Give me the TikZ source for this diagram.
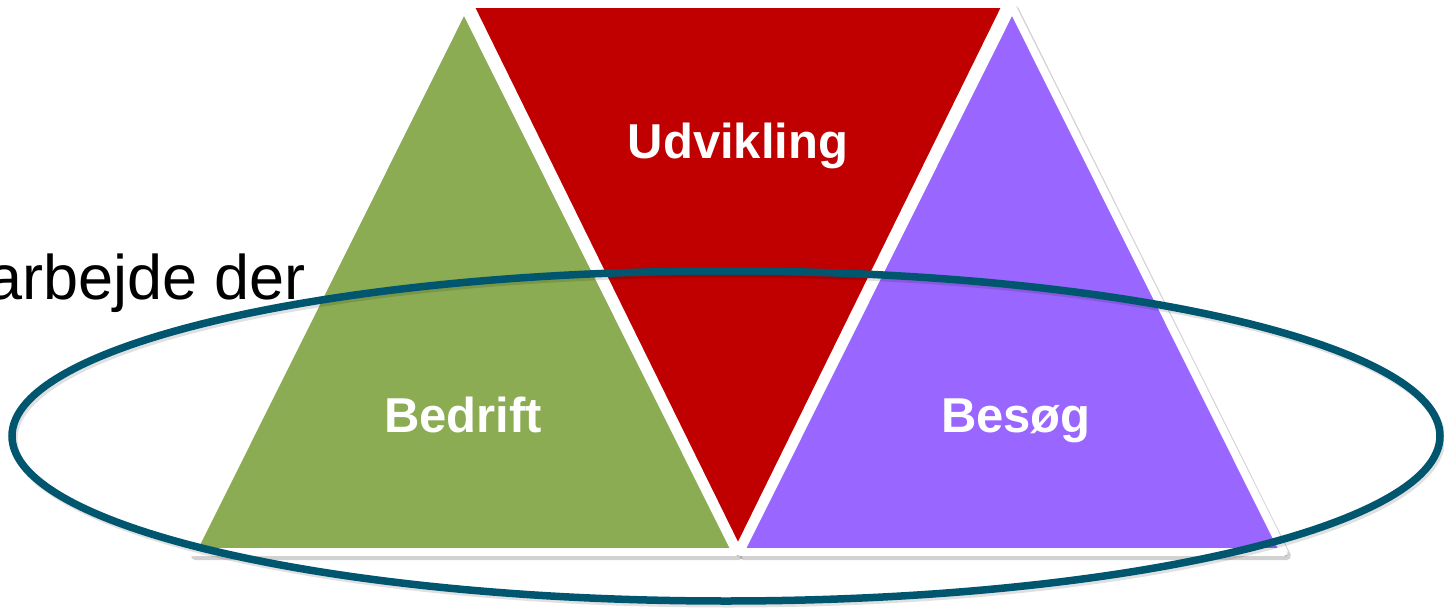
\documentclass[tikz,border=0pt]{standalone}
\usepackage{fontspec}
\setmainfont{Liberation Sans}
\definecolor{tgreen}{HTML}{8BAC53}
\definecolor{tred}{HTML}{C00000}
\definecolor{tpurple}{HTML}{9966FF}
\definecolor{ering}{HTML}{00566E}
\tikzset{
  tri/.style={draw=white, line width=8pt, line join=round},
  trishadow/.style={fill=black, opacity=0.18, line width=8pt, draw=black, line join=round},
  lbl/.style={text=white, font=\fontsize{49}{56}\selectfont\bfseries, inner sep=0pt, anchor=base},
  ring/.style={draw=ering, line width=7.5pt},
}
\begin{document}
\begin{tikzpicture}[x=1pt,y=-1pt]
\useasboundingbox (0,0) rectangle (1444,610);
% shadows
\fill[trishadow] (466,10) -- (195,556) -- (739,556) -- cycle;
\fill[trishadow] (1015,10) -- (743,556) -- (1287,556) -- cycle;
% triangles
\filldraw[tri, fill=tgreen] (464,7) -- (192,552) -- (736,552) -- cycle;
\filldraw[tri, fill=tpurple] (1012,7) -- (740,552) -- (1284,552) -- cycle;
\filldraw[tri, fill=tred] (469,4) -- (1007,4) -- (738,551) -- cycle;
% ellipse
\draw[draw=black, opacity=0.12, line width=7pt] (728,439) ellipse [x radius=714, y radius=165];
\draw[ring] (726,436) ellipse [x radius=714, y radius=165];
% labels
\node[lbl] (udv) at (738,158) {Udvikling};
\node[lbl] (bed) at (463,432) {Bedrift};
\node[lbl] (bes) at (1016,432) {Besøg};
\node[anchor=base east, inner sep=0pt, font=\fontsize{63}{70}\selectfont] (arb) at (306,299) {arbejde der};
\end{tikzpicture}
\end{document}
